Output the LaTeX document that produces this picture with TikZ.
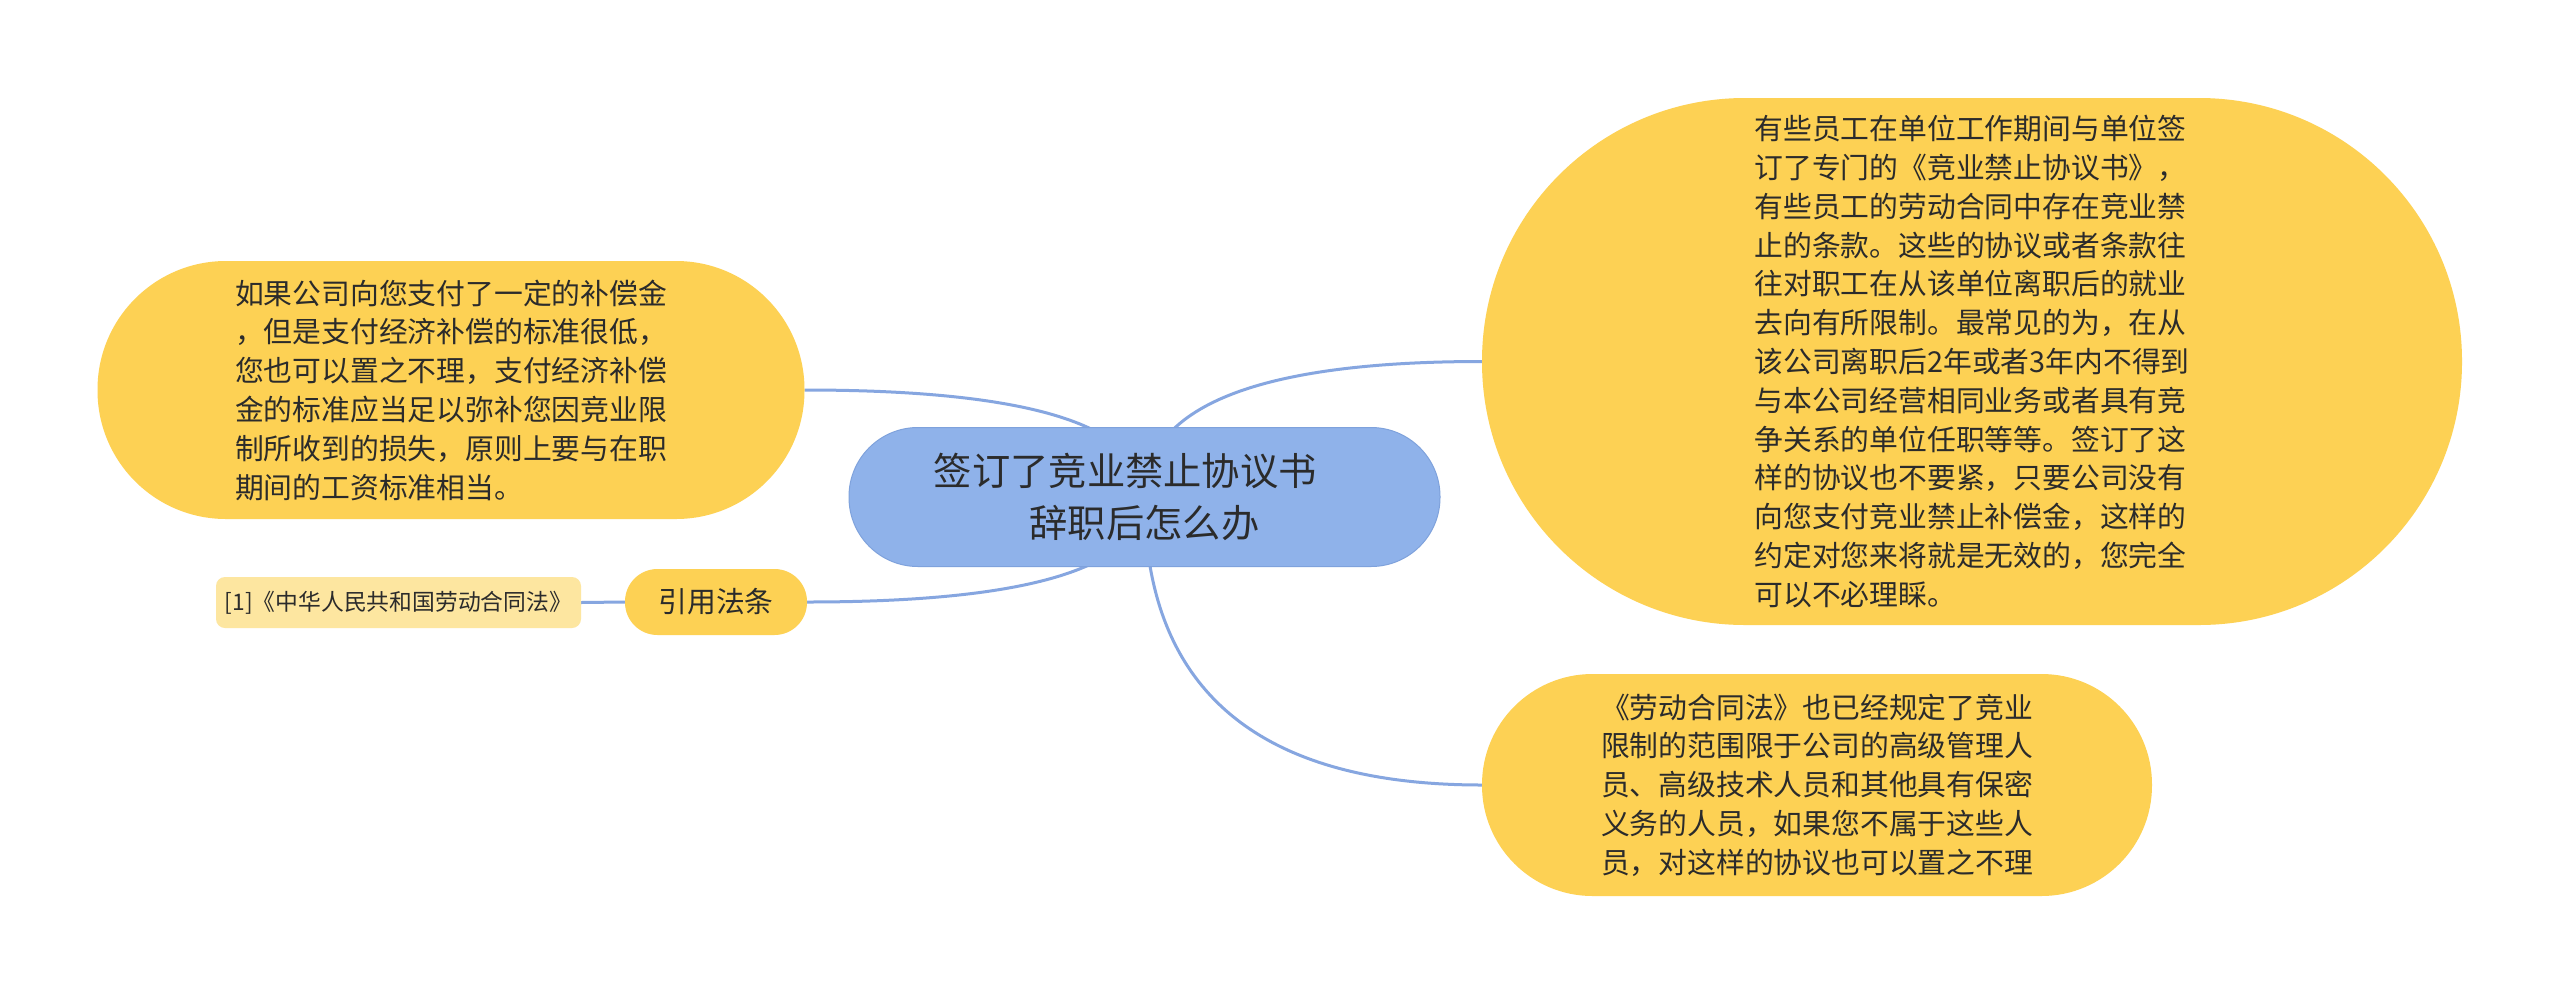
\documentclass[tikz,border=0pt]{standalone}
\usepackage{fontspec}
\setmainfont{Noto Sans CJK SC}
\usetikzlibrary{calc,backgrounds}
\definecolor{topicyellow}{HTML}{FDD154}
\definecolor{citeyellow}{HTML}{FDE6A0}
\definecolor{centerblue}{HTML}{8FB2EA}
\definecolor{centerline}{HTML}{7FA2DC}
\definecolor{connblue}{HTML}{86A6E0}
\definecolor{txt}{HTML}{2B2B2B}
\tikzset{
  bodyfont/.style={font=\fontsize{28.8pt}{38.8pt}\selectfont},
  topic/.style={fill=topicyellow, text=txt, inner sep=0pt, align=left, bodyfont},
  centerbox/.style={fill=centerblue, draw=centerline, line width=1pt, text=txt, inner sep=0pt, align=center,
    font=\fontsize{38.3pt}{52pt}\selectfont, minimum width=591pt, minimum height=139pt, rounded corners=69pt},
  citebox/.style={fill=citeyellow, text=txt, inner sep=0pt, rounded corners=9pt,
    font=\fontsize{22.8pt}{30pt}\selectfont, minimum width=365pt, minimum height=51pt},
  conn/.style={draw=connblue, line width=3pt}
}
\begin{document}
\begin{tikzpicture}[x=1pt,y=-1pt]
\path[use as bounding box] (0,0) rectangle (2560,994);

\node[centerbox] (c) at (1144.5,497) {签订了竞业禁止协议书\hspace*{1em}\\辞职后怎么办};

\node[topic, minimum width=707pt, minimum height=258pt, rounded corners=128.5pt] (L1) at (451,390)
{如果公司向您支付了一定的补偿金\\
，但是支付经济补偿的标准很低，\\
您也可以置之不理，支付经济补偿\\
金的标准应当足以弥补您因竞业限\\
制所收到的损失，原则上要与在职\\
期间的工资标准相当。};

\node[topic, minimum width=182pt, minimum height=66pt, rounded corners=32.5pt, align=center] (yin) at (716,602) {引用法条};

\node[citebox] (cite) at (398.5,602.5) {[1]《中华人民共和国劳动合同法》};

\node[topic, minimum width=980pt, minimum height=527pt, rounded corners=263pt] (R1) at (1972,361.5)
{有些员工在单位工作期间与单位签\\
订了专门的《竞业禁止协议书》，\\
有些员工的劳动合同中存在竞业禁\\
止的条款。这些的协议或者条款往\\
往对职工在从该单位离职后的就业\\
去向有所限制。最常见的为，在从\\
该公司离职后2年或者3年内不得到\\
与本公司经营相同业务或者具有竞\\
争关系的单位任职等等。签订了这\\
样的协议也不要紧，只要公司没有\\
向您支付竞业禁止补偿金，这样的\\
约定对您来将就是无效的，您完全\\
可以不必理睬。};

\node[topic, minimum width=670pt, minimum height=222pt, rounded corners=110.5pt] (R2) at (1817,785)
{《劳动合同法》也已经规定了竞业\\
限制的范围限于公司的高级管理人\\
员、高级技术人员和其他具有保密\\
义务的人员，如果您不属于这些人\\
员，对这样的协议也可以置之不理};

\begin{scope}[on background layer]
  \fill[white] (0,0) rectangle (2560,994);
  \draw[conn] (c.center) .. controls ($(c.center)!0.667!(c.center |- R1.west)$) and ($(R1.west)!0.667!(c.center |- R1.west)$) .. (R1.west);
  \draw[conn] (c.center) .. controls ($(c.center)!0.667!(c.center |- R2.west)$) and ($(R2.west)!0.667!(c.center |- R2.west)$) .. (R2.west);
  \draw[conn] (c.center) .. controls ($(c.center)!0.667!(c.center |- L1.east)$) and ($(L1.east)!0.667!(c.center |- L1.east)$) .. (L1.east);
  \draw[conn] (c.center) .. controls ($(c.center)!0.667!(c.center |- yin.east)$) and ($(yin.east)!0.667!(c.center |- yin.east)$) .. (yin.east);
  \draw[conn] (yin.west) -- (cite.east);
\end{scope}
\end{tikzpicture}
\end{document}
